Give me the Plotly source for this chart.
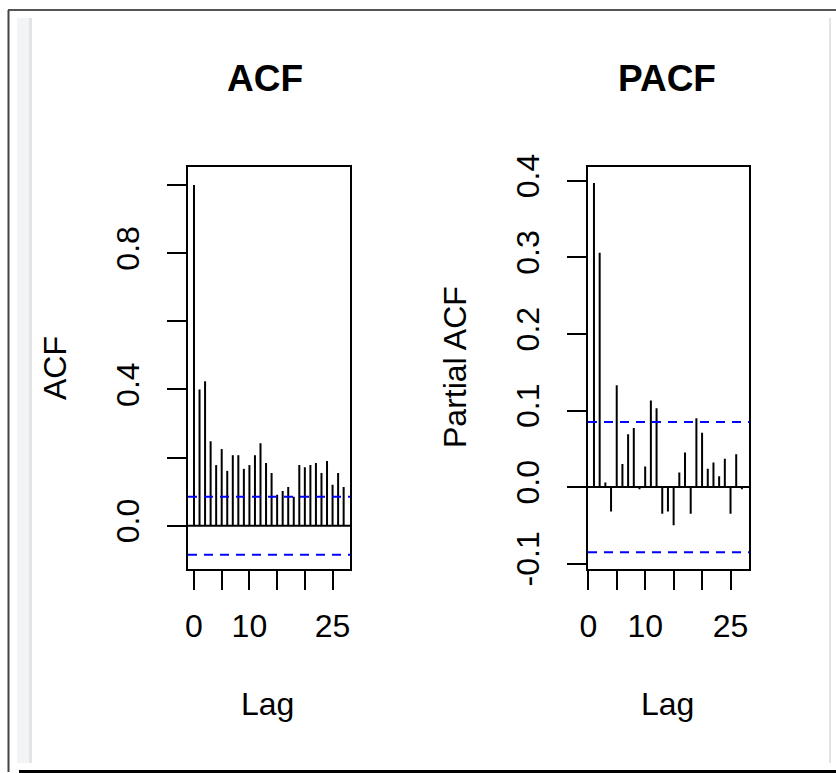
import plotly.graph_objects as go

# ---------------- data ----------------
acf_lags = list(range(0, 28))
acf_vals = [1.000, 0.400, 0.424, 0.248, 0.178, 0.225, 0.161, 0.207, 0.207, 0.167,
            0.178, 0.207, 0.242, 0.184, 0.155, 0.091, 0.102, 0.114, 0.085, 0.178,
            0.172, 0.178, 0.184, 0.155, 0.190, 0.120, 0.155, 0.114]
pacf_lags = list(range(1, 28))
pacf_vals = [0.397, 0.306, 0.006, -0.032, 0.133, 0.030, 0.069, 0.077, -0.003, 0.027,
             0.113, 0.103, -0.035, -0.032, -0.050, 0.019, 0.045, -0.035, 0.090, 0.071,
             0.024, 0.032, 0.014, 0.037, -0.035, 0.043, -0.003]
ci_bound = 0.085

x_tickvals = [0, 5, 10, 15, 20, 25]
x_ticktext = ["0", "", "10", "", "", "25"]
acf_y_tickvals = [0.0, 0.2, 0.4, 0.6, 0.8, 1.0]
acf_y_ticktext = ["0.0", "", "0.4", "", "0.8", ""]
pacf_y_tickvals = [-0.1, 0.0, 0.1, 0.2, 0.3, 0.4]
pacf_y_ticktext = ["-0.1", "0.0", "0.1", "0.2", "0.3", "0.4"]

W, H = 836, 773
FONT = "Liberation Sans, Arial, sans-serif"


def px(x):
    return x / W


def py(y):
    return 1 - y / H


def spikes(lags, vals):
    xs, ys = [], []
    for l, v in zip(lags, vals):
        xs += [l, l, None]
        ys += [0, v, None]
    return xs, ys


fig = go.Figure()
ax, ay = spikes(acf_lags, acf_vals)
fig.add_trace(go.Scatter(x=ax, y=ay, mode="lines", line=dict(color="black", width=2),
                         xaxis="x", yaxis="y", showlegend=False, hoverinfo="skip"))
bx, by = spikes(pacf_lags, pacf_vals)
fig.add_trace(go.Scatter(x=bx, y=by, mode="lines", line=dict(color="black", width=2),
                         xaxis="x2", yaxis="y2", showlegend=False, hoverinfo="skip"))

shapes = []
for xr, yr in (("x", "y"), ("x2", "y2")):
    shapes.append(dict(type="line", xref=f"{xr} domain", yref=yr, x0=0, x1=1, y0=0, y1=0,
                       line=dict(color="black", width=2)))
    for s in (1, -1):
        shapes.append(dict(type="line", xref=f"{xr} domain", yref=yr, x0=0, x1=1,
                           y0=s * ci_bound, y1=s * ci_bound,
                           line=dict(color="#0000FF", width=2, dash="9px,7px")))

# outer frame decoration
shapes += [
    dict(type="rect", xref="paper", yref="paper", x0=px(17), x1=px(29), y0=py(763), y1=py(18),
         fillcolor="#f3f4f6", line=dict(width=0), layer="below"),
    dict(type="rect", xref="paper", yref="paper", x0=px(29), x1=px(32), y0=py(763), y1=py(18),
         fillcolor="#e2e4e7", line=dict(width=0), layer="below"),
    dict(type="rect", xref="paper", yref="paper", x0=px(829), x1=px(831), y0=py(763), y1=py(18),
         fillcolor="#e2e4e7", line=dict(width=0), layer="below"),
    dict(type="line", xref="paper", yref="paper", x0=px(8), x1=1, y0=py(10), y1=py(10),
         line=dict(color="#555555", width=2)),
    dict(type="line", xref="paper", yref="paper", x0=px(8.5), x1=px(8.5), y0=py(772), y1=py(10),
         line=dict(color="#444444", width=2)),
    dict(type="line", xref="paper", yref="paper", x0=px(19), x1=1, y0=py(771.5), y1=py(771.5),
         line=dict(color="black", width=3)),
]

axis_common = dict(showline=True, linecolor="black", linewidth=2, mirror=True,
                   ticks="outside", ticklen=19, tickwidth=2, tickcolor="black",
                   showgrid=False, zeroline=False, automargin=False,
                   tickfont=dict(family=FONT, size=32, color="black"))

fig.update_layout(
    template="none",
    width=W, height=H, margin=dict(l=0, r=0, t=0, b=0, pad=0), autosize=False,
    paper_bgcolor="white", plot_bgcolor="white",
    shapes=shapes,
    xaxis=dict(domain=[px(188), px(350.3)], range=[-1.08, 28.2], anchor="y",
               tickvals=x_tickvals, ticktext=x_ticktext, ticklabelstandoff=9, **axis_common),
    yaxis=dict(domain=[py(569), py(167)], range=[-0.127, 1.053], anchor="x",
               tickvals=acf_y_tickvals, ticktext=acf_y_ticktext, tickangle=-90,
               ticklabelstandoff=15, **axis_common),
    xaxis2=dict(domain=[px(588), px(749.3)], range=[-0.05, 28.3], anchor="y2",
                tickvals=x_tickvals, ticktext=x_ticktext, ticklabelstandoff=9, **axis_common),
    yaxis2=dict(domain=[py(569), py(167)], range=[-0.107, 0.418], anchor="x2",
                tickvals=pacf_y_tickvals, ticktext=pacf_y_ticktext, tickangle=-90,
                ticklabelstandoff=15, **axis_common),
)

ann = [
    dict(text="<b>ACF</b>", x=px(265), y=py(78), size=37, angle=0),
    dict(text="<b>PACF</b>", x=px(667), y=py(78), size=37, angle=0),
    dict(text="Lag", x=px(267), y=py(704), size=32, angle=0),
    dict(text="Lag", x=px(667), y=py(704), size=32, angle=0),
    dict(text="ACF", x=px(55), y=py(368), size=32, angle=-90),
    dict(text="Partial ACF", x=px(455), y=py(367), size=32, angle=-90),
]
for a in ann:
    fig.add_annotation(text=a["text"], x=a["x"], y=a["y"], xref="paper", yref="paper",
                       showarrow=False, textangle=a["angle"], xanchor="center", yanchor="middle",
                       font=dict(family=FONT, size=a["size"], color="black"))

fig.write_html("out.html", config={"displayModeBar": False},
               post_script="document.body.style.margin='0px';document.body.style.overflow='hidden';")
